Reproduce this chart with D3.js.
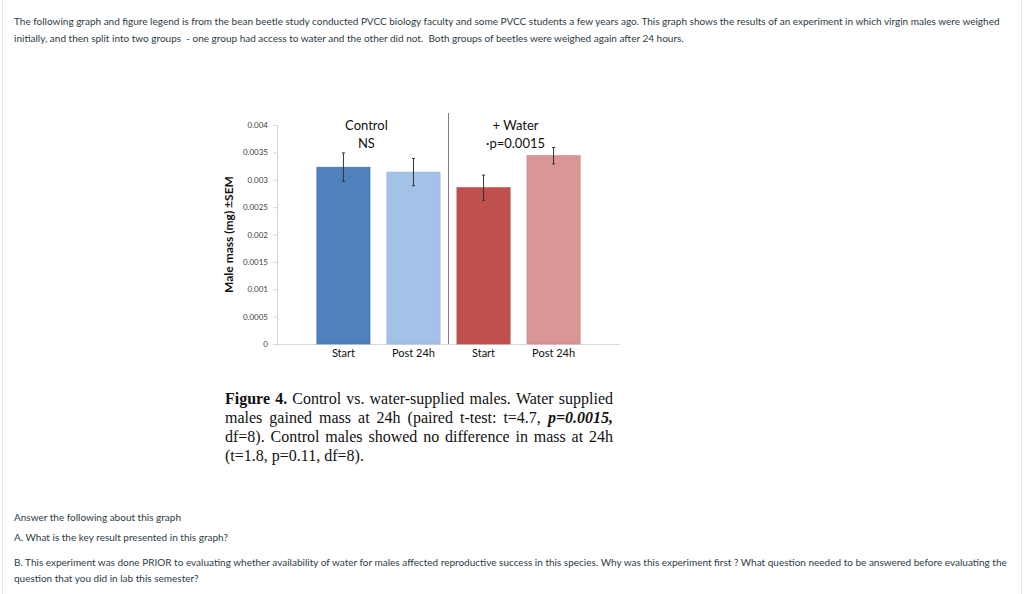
<!DOCTYPE html>
<html>
<head>
<meta charset="utf-8">
<script src="https://cdn.jsdelivr.net/npm/d3@7"></script>
<style>
  html, body { margin: 0; padding: 0; background: #fff; }
  svg { display: block; }
</style>
</head>
<body>
<svg id="page" width="1024" height="594"></svg>
<script>
// ── DATA ──────────────────────────────────────────────────────────────────────
const categories = ['Start', 'Post 24h', 'Start ', 'Post 24h '];
const massMean   = [0.00323, 0.00314, 0.002855, 0.00344];
const massSem    = [0.00026, 0.00025, 0.00023, 0.00015];
const barColors  = ['#4f81bd', '#a4c2e8', '#c0504d', '#d99694'];
const yTicks     = [0, 0.0005, 0.001, 0.0015, 0.002, 0.0025, 0.003, 0.0035, 0.004];
const yTickText  = ['0', '0.0005', '0.001', '0.0015', '0.002', '0.0025', '0.003', '0.0035', '0.004'];

const introLines = [
  'The following graph and figure legend is from the bean beetle study conducted PVCC biology faculty and some PVCC students a few years ago. This graph shows the results of an experiment in which virgin males were weighed',
  'initially, and then split into two groups  - one group had access to water and the other did not.  Both groups of beetles were weighed again after 24 hours.'
];
const questionLines = [
  'Answer the following about this graph',
  'A. What is the key result presented in this graph?',
  'B. This experiment was done PRIOR to evaluating whether availability of water for males affected reproductive success in this species. Why was this experiment first ? What question needed to be answered before evaluating the',
  'question that you did in lab this semester?'
];
// caption: each line is a list of [text, style]
const captionLines = [
  [['Figure 4.', 'b'], ['Control vs. water-supplied males.  Water supplied', 'n']],
  [['males gained mass at 24h  (paired t-test: t=4.7,', 'n'], ['p=0.0015,', 'bi']],
  [['df=8). Control males showed no difference in mass at 24h', 'n']],
  [['(t=1.8, p=0.11, df=8).', 'n']]
];

const svg = d3.select('#page');
const TEXT_COLOR = '#2d3b45';
const UI_FONT = "Lato, 'Open Sans', sans-serif";

// ── PAGE FRAME ────────────────────────────────────────────────────────────────
svg.append('line').attr('x1', 2.5).attr('x2', 2.5).attr('y1', 0).attr('y2', 594)
  .attr('stroke', '#e6e6e6');
svg.append('line').attr('x1', 1021.5).attr('x2', 1021.5).attr('y1', 0).attr('y2', 594)
  .attr('stroke', '#e6e6e6');

// ── TEXT BLOCKS ───────────────────────────────────────────────────────────────
svg.append('g').selectAll('text')
  .data(introLines)
  .join('text')
  .attr('x', 14)
  .attr('y', (d, i) => 25 + i * 17)
  .attr('font-family', UI_FONT)
  .attr('font-size', '10px')
  .attr('fill', TEXT_COLOR)
  .style('white-space', 'pre')
  .text(d => d);

const qY = [521, 541, 566, 582];
svg.append('g').selectAll('text')
  .data(questionLines)
  .join('text')
  .attr('x', 14)
  .attr('y', (d, i) => qY[i])
  .attr('font-family', UI_FONT)
  .attr('font-size', '10px')
  .attr('fill', TEXT_COLOR)
  .text(d => d);

// ── CHART ─────────────────────────────────────────────────────────────────────
const axisX = 277, axisEnd = 620;
const y = d3.scaleLinear().domain([0, 0.004]).range([344, 125]);
const x = d3.scaleBand().domain(categories).range([300, 597]).padding(0.24);
const mid = d => x(d) + x.bandwidth() / 2;

const chart = svg.append('g').attr('class', 'chart');

// y axis
const yAxis = chart.append('g')
  .attr('transform', `translate(${axisX},0)`)
  .call(d3.axisLeft(y).tickValues(yTicks).tickFormat((d, i) => yTickText[i]).tickSize(4).tickPadding(5));
yAxis.select('.domain').attr('stroke', '#d9d9d9');
yAxis.selectAll('.tick line').attr('stroke', '#d9d9d9');
yAxis.selectAll('.tick text')
  .attr('font-family', UI_FONT).attr('font-size', '8px').attr('fill', '#404040');

// x axis
const xAxis = chart.append('g')
  .attr('transform', `translate(0,${y(0)})`)
  .call(d3.axisBottom(x).tickSize(0).tickPadding(5));
xAxis.select('.domain').attr('d', `M${axisX},0.5H${axisEnd}`).attr('stroke', '#d9d9d9');
xAxis.selectAll('.tick text')
  .attr('font-family', UI_FONT).attr('font-size', '11px').attr('fill', '#111');

// bars
chart.append('g').selectAll('rect')
  .data(categories)
  .join('rect')
  .attr('x', d => x(d))
  .attr('width', x.bandwidth())
  .attr('y', (d, i) => y(massMean[i]))
  .attr('height', (d, i) => y(0) - y(massMean[i]))
  .attr('fill', (d, i) => barColors[i])
  .attr('stroke', (d, i) => d3.color(barColors[i]).darker(0.3))
  .attr('stroke-width', 0.6);

// error bars
const err = chart.append('g').selectAll('g')
  .data(categories)
  .join('g')
  .attr('transform', d => `translate(${mid(d)},0)`);
err.append('line')
  .attr('y1', (d, i) => y(massMean[i] + massSem[i]))
  .attr('y2', (d, i) => y(massMean[i] - massSem[i]))
  .attr('stroke', '#333').attr('stroke-width', 1);
[1, -1].forEach(sgn => {
  err.append('line')
    .attr('x1', -1.5).attr('x2', 1.5)
    .attr('y1', (d, i) => y(massMean[i] + sgn * massSem[i]))
    .attr('y2', (d, i) => y(massMean[i] + sgn * massSem[i]))
    .attr('stroke', '#333').attr('stroke-width', 1);
});

// group separator
const sepX = (x(categories[1]) + x.bandwidth() + x(categories[2])) / 2;
chart.append('line')
  .attr('x1', sepX).attr('x2', sepX)
  .attr('y1', 113).attr('y2', y(0))
  .attr('stroke', '#7f7f7f').attr('stroke-width', 1);

// group labels (text boxes sit right of the first bar of each group)
const groupLabels = [
  { cx: mid(categories[0]) + 23, lines: ['Control', 'NS'] },
  { cx: mid(categories[2]) + 32, lines: ['+ Water', '\u00b7p=0.0015'] }
];
groupLabels.forEach(g => {
  chart.append('g').selectAll('text')
    .data(g.lines)
    .join('text')
    .attr('x', g.cx)
    .attr('y', (d, i) => 130 + i * 18)
    .attr('text-anchor', 'middle')
    .attr('font-family', UI_FONT)
    .attr('font-size', '13px')
    .attr('fill', '#111')
    .text(d => d);
});

// y title
chart.append('text')
  .attr('transform', `translate(233,${(y(0) + y(0.004)) / 2}) rotate(-90)`)
  .attr('text-anchor', 'middle')
  .attr('font-family', UI_FONT)
  .attr('font-size', '12px')
  .attr('font-weight', 'bold')
  .attr('fill', '#111')
  .text('Male mass (mg) \u00b1SEM');

// ── CAPTION (justified) ───────────────────────────────────────────────────────
const capLeft = 225, capRight = 613, capTop = 404, capStep = 19;
const cap = svg.append('g').attr('font-family', "'Liberation Serif', 'Times New Roman', serif")
  .attr('font-size', '16px').attr('fill', '#111');

captionLines.forEach((segs, li) => {
  // split into words keeping their style
  const words = [];
  segs.forEach(([txt, st]) => txt.split(/\s+/).filter(Boolean).forEach(w => words.push({ w, st })));
  const nodes = words.map(o => cap.append('text')
    .attr('y', capTop + li * capStep)
    .attr('font-weight', o.st.includes('b') ? 'bold' : 'normal')
    .attr('font-style', o.st.includes('i') ? 'italic' : 'normal')
    .text(o.w));
  const widths = nodes.map(n => n.node().getComputedTextLength());
  const total = d3.sum(widths);
  const last = li === captionLines.length - 1;
  const gap = last ? 4 : (capRight - capLeft - total) / (words.length - 1);
  let cx = capLeft;
  nodes.forEach((n, i) => { n.attr('x', cx); cx += widths[i] + gap; });
});
</script>
</body>
</html>
